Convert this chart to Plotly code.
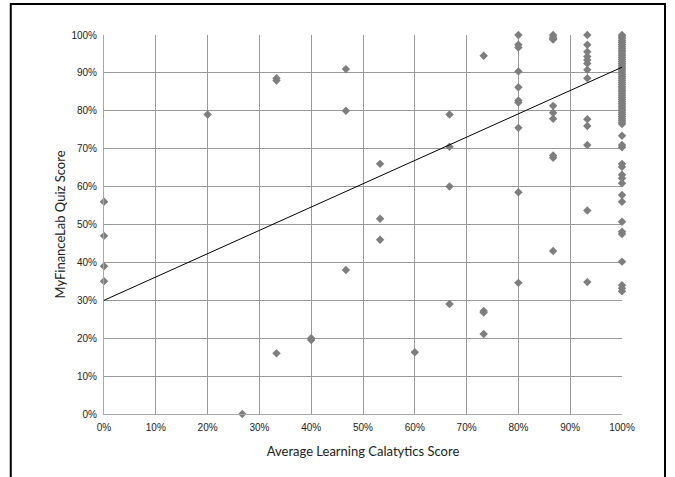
import plotly.graph_objects as go

# Average Learning Catalytics score (x) and MyFinanceLab quiz score (y), per student
x_scores = (
    [0.0] * 4
    + [0.20]
    + [0.267]
    + [0.333] * 3
    + [0.40] * 2
    + [0.467] * 3
    + [0.533] * 3
    + [0.60]
    + [0.667] * 4
    + [0.733] * 4
    + [0.80] * 10
    + [0.867] * 10
    + [0.933] * 13
)
y_scores = [
    0.56, 0.47, 0.39, 0.35,
    0.79,
    0.0,
    0.886, 0.88, 0.16,
    0.20, 0.195,
    0.91, 0.80, 0.38,
    0.66, 0.515, 0.46,
    0.163,
    0.79, 0.705, 0.60, 0.29,
    0.945, 0.272, 0.268, 0.211,
    1.0, 0.974, 0.967, 0.904, 0.862, 0.827, 0.822, 0.755, 0.585, 0.346,
    1.0, 0.994, 0.988, 0.813, 0.795, 0.779, 0.682, 0.676, 0.43, 0.99,
    1.0, 0.974, 0.956, 0.943, 0.934, 0.925, 0.908, 0.886, 0.778, 0.76, 0.71, 0.537, 0.348,
]

# the dense column of students with a perfect Learning Catalytics average
full_marks_y = [
    1.0, 0.995, 0.99, 0.985, 0.98, 0.975, 0.97, 0.965, 0.96, 0.955, 0.95, 0.945,
    0.94, 0.935, 0.93, 0.925, 0.92, 0.915, 0.91, 0.905, 0.90, 0.895, 0.89, 0.885,
    0.88, 0.875, 0.87, 0.865, 0.86, 0.855, 0.85, 0.845, 0.84, 0.835, 0.83, 0.825,
    0.82, 0.815, 0.81, 0.805, 0.80, 0.795, 0.79, 0.785, 0.78, 0.775, 0.77, 0.765,
    0.734, 0.71, 0.704, 0.66, 0.652, 0.631, 0.622, 0.609, 0.578, 0.56,
    0.507, 0.481, 0.475, 0.402, 0.34, 0.332, 0.324,
]
x_scores = x_scores + [1.0] * len(full_marks_y)
y_scores = y_scores + full_marks_y

# linear trendline end points
trend_x = [0.0, 1.0]
trend_y = [0.30, 0.915]

tick_vals = [i / 10 for i in range(11)]
tick_text = [f"{i * 10}%" for i in range(11)]

fig = go.Figure()
fig.add_trace(go.Scatter(
    x=x_scores, y=y_scores, mode="markers",
    marker=dict(symbol="diamond", size=6.5, color="#7e7e7e", line=dict(width=0)),
    cliponaxis=False, showlegend=False,
))
fig.add_trace(go.Scatter(
    x=trend_x, y=trend_y, mode="lines",
    line=dict(color="black", width=1), showlegend=False,
))

axis_common = dict(
    range=[0, 1], tickvals=tick_vals, ticktext=tick_text,
    showgrid=True, gridcolor="#9a9a9a", gridwidth=1, zeroline=False,
    showline=True, linecolor="#a8a8a8", linewidth=1,
    ticks="outside", ticklen=4, tickcolor="rgba(0,0,0,0)",
    tickfont=dict(family="Liberation Sans, Arial", size=10, color="#222"),
    automargin=False,
)

fig.update_layout(
    width=675, height=477,
    margin=dict(l=104, r=53, t=35, b=63),
    plot_bgcolor="white", paper_bgcolor="white",
    xaxis=dict(axis_common, title=dict(
        text="Average Learning Calatytics Score",
        font=dict(family="Lato, Open Sans", size=13, color="#222"), standoff=14)),
    yaxis=dict(axis_common, title=dict(
        text="MyFinanceLab Quiz Score",
        font=dict(family="Lato, Open Sans", size=13, color="#222"), standoff=2)),
)

# outer chart border
fig.add_shape(type="rect", xref="paper", yref="paper",
              x0=-0.18, x1=1.083, y0=-0.23, y1=1.082,
              line=dict(color="black", width=2), layer="above")

# drop the page's default body margin so the figure sits at the window origin
fig.write_html("out.html", config={"displayModeBar": False},
               post_script="document.body.style.margin='0';")
